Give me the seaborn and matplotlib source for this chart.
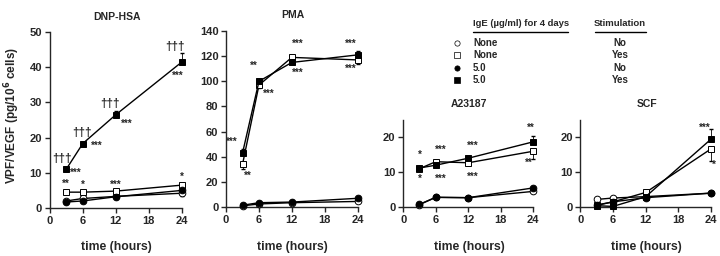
import matplotlib
matplotlib.use('Agg')
import matplotlib.pyplot as plt
import seaborn as sns
import pandas as pd
import numpy as np

# time points (hours)
hours = [3, 6, 12, 24]

# series order: none/no stim, none/stim, IgE/no stim, IgE/stim
series_names = ['None-No', 'None-Yes', '5.0-No', '5.0-Yes']

# DNP-HSA
dnp_none_no = [2.0, 2.7, 3.3, 4.2]
dnp_none_yes = [4.5, 4.5, 4.8, 6.5]
dnp_ige_no = [1.7, 2.0, 3.2, 5.0]
dnp_ige_yes = [11.0, 18.3, 26.5, 41.5]
dnp_err_yes = [0.5, 0.5, 1.0, 2.5]

# PMA
pma_none_no = [1.0, 2.5, 3.5, 4.5]
pma_none_yes = [34.0, 97.0, 119.0, 117.0]
pma_ige_no = [1.5, 3.5, 4.0, 7.0]
pma_ige_yes = [43.0, 100.0, 115.0, 121.0]
pma_err_yes = [3.0, 2.0, 2.0, 3.0]

# A23187
a23_none_no = [0.7, 2.8, 2.7, 4.5]
a23_none_yes = [11.0, 13.0, 12.7, 16.0]
a23_ige_no = [0.8, 2.8, 2.7, 5.5]
a23_ige_yes = [11.2, 12.0, 14.0, 18.7]
a23_err_yes = [0.5, 0.4, 0.4, 1.8]

# SCF
scf_none_no = [2.2, 2.6, 3.0, 4.0]
scf_none_yes = [0.6, 1.5, 4.2, 16.7]
scf_ige_no = [0.5, 1.5, 2.7, 4.0]
scf_ige_yes = [0.4, 0.2, 3.0, 19.5]
scf_err_yes = [0.3, 0.3, 0.5, 3.0]

# significance marks: (hour, value, label)
dnp_marks = [(2.2, 13.8, '†††'), (4.8, 10.0, '***'), (3.0, 7.0, '**'),
             (5.8, 21.2, '†††'), (8.5, 17.8, '***'), (6.0, 6.5, '*'),
             (11.0, 29.5, '†††'), (13.9, 24.0, '***'), (12.0, 6.5, '***'),
             (22.8, 45.8, '†††'), (23.2, 37.5, '***'), (24.0, 8.8, '*')]
pma_marks = [(1.0, 52, '***'), (4.0, 25, '**'), (5.0, 112, '**'),
             (7.8, 90, '***'), (13.0, 130, '***'), (13.0, 107, '***'),
             (22.8, 130, '***'), (22.8, 110, '***')]
a23_marks = [(3.0, 15.0, '*'), (3.0, 8.0, '*'), (6.9, 16.3, '***'),
             (6.9, 8.0, '***'), (12.9, 17.5, '***'), (12.9, 8.6, '***'),
             (23.5, 22.8, '**'), (23.2, 12.8, '**')]
scf_marks = [(22.8, 22.6, '***'), (24.5, 12.0, '*')]

panels = [
    ('DNP-HSA', [dnp_none_no, dnp_none_yes, dnp_ige_no, dnp_ige_yes], dnp_err_yes, dnp_marks, 50, 10),
    ('PMA', [pma_none_no, pma_none_yes, pma_ige_no, pma_ige_yes], pma_err_yes, pma_marks, 140, 20),
    ('A23187', [a23_none_no, a23_none_yes, a23_ige_no, a23_ige_yes], a23_err_yes, a23_marks, 25, 10),
    ('SCF', [scf_none_no, scf_none_yes, scf_ige_no, scf_ige_yes], scf_err_yes, scf_marks, 25, 10),
]

positions = [
    [0.069, 0.1875, 0.186, 0.6875],
    [0.314, 0.191, 0.185, 0.688],
    [0.560, 0.191, 0.183, 0.341],
    [0.806, 0.191, 0.184, 0.341],
]

styles = {
    'None-No': dict(marker='o', mfc='white'),
    'None-Yes': dict(marker='s', mfc='white'),
    '5.0-No': dict(marker='o', mfc='black'),
    '5.0-Yes': dict(marker='s', mfc='black'),
}

sns.set_style('ticks')
plt.rcParams['font.family'] = ['Liberation Sans', 'DejaVu Sans']
plt.rcParams['font.weight'] = 'bold'
plt.rcParams['mathtext.default'] = 'bf'
plt.rcParams['axes.linewidth'] = 1.0
plt.rcParams['xtick.major.width'] = 1.0
plt.rcParams['ytick.major.width'] = 1.0
plt.rcParams['xtick.major.size'] = 3.5
plt.rcParams['ytick.major.size'] = 3.5

fig = plt.figure(figsize=(7.2, 2.56), dpi=100)

for (title, values, err_yes, marks, ymax, ystep), pos in zip(panels, positions):
    ax = fig.add_axes(pos)
    df = pd.DataFrame({
        'time': hours * 4,
        'value': [v for s in values for v in s],
        'series': [n for n in series_names for _ in hours],
    })
    for name in series_names:
        sub = df[df['series'] == name]
        st = styles[name]
        sns.lineplot(data=sub, x='time', y='value', ax=ax, color='black',
                     linewidth=1.0, marker=st['marker'], markersize=4.8,
                     markerfacecolor=st['mfc'], markeredgecolor='black',
                     markeredgewidth=0.7, clip_on=False, zorder=3)
    # error bars
    ax.errorbar(hours, values[3], yerr=[np.zeros(4), err_yes], fmt='none',
                ecolor='black', elinewidth=0.6, capsize=1.5, clip_on=False, zorder=2)
    ax.errorbar(hours, values[1], yerr=[np.array(err_yes) * 1.2, np.zeros(4)], fmt='none',
                ecolor='black', elinewidth=0.6, capsize=1.5, clip_on=False, zorder=2)
    for hx, hy, lab in marks:
        fs = 8.5 if '†' in lab else 7
        ax.text(hx, hy, lab, ha='center', va='center', fontsize=fs, fontweight='bold')
    ax.set_xlim(0, 24.3)
    ax.set_ylim(0, ymax)
    ax.set_xticks([0, 6, 12, 18, 24])
    ax.set_yticks(np.arange(0, ymax + 0.1, ystep))
    ax.tick_params(labelsize=8, pad=2)
    for lab in ax.get_xticklabels() + ax.get_yticklabels():
        lab.set_fontweight('bold')
    ax.set_xlabel('')
    ax.set_ylabel('')
    ax.set_title(title, fontsize=7.5, fontweight='bold', pad=9)
    sns.despine(ax=ax)
    ax.spines['bottom'].set_bounds(0, 24)
    cx = pos[0] + pos[2] / 2
    fig.text(cx, 1 - 247 / 256, 'time (hours)', ha='center', va='center',
             fontsize=8.8, fontweight='bold')

fig.text(12 / 720, 1 - 116 / 256, 'VPF/VEGF (pg/10$^6$ cells)', rotation=90,
         ha='center', va='center', fontsize=8.5, fontweight='bold')

# legend table
legend_none = ['None', 'None', '5.0', '5.0']
legend_stim = ['No', 'Yes', 'No', 'Yes']
row_y = [43, 55, 68, 80]
fig.text(473 / 720, 1 - 24 / 256, 'IgE (µg/ml) for 4 days', ha='left', va='center',
         fontsize=6.8, fontweight='bold')
fig.text(620 / 720, 1 - 24 / 256, 'Stimulation', ha='center', va='center',
         fontsize=6.8, fontweight='bold')
fig.add_artist(plt.Line2D([473 / 720, 568 / 720], [1 - 31.5 / 256] * 2, color='black', lw=1))
fig.add_artist(plt.Line2D([595 / 720, 646 / 720], [1 - 31.5 / 256] * 2, color='black', lw=1))
for name, ig, stim, ry in zip(series_names, legend_none, legend_stim, row_y):
    st = styles[name]
    fig.add_artist(plt.Line2D([457 / 720], [1 - ry / 256], marker=st['marker'],
                              markersize=3.8, markerfacecolor=st['mfc'],
                              markeredgecolor='black', markeredgewidth=0.5, linestyle='none'))
    fig.text(473 / 720, 1 - ry / 256, ig, ha='left', va='center', fontsize=7, fontweight='bold')
    fig.text(620 / 720, 1 - ry / 256, stim, ha='center', va='center', fontsize=7, fontweight='bold')

fig.savefig('out.png', dpi=100)
plt.close(fig)
